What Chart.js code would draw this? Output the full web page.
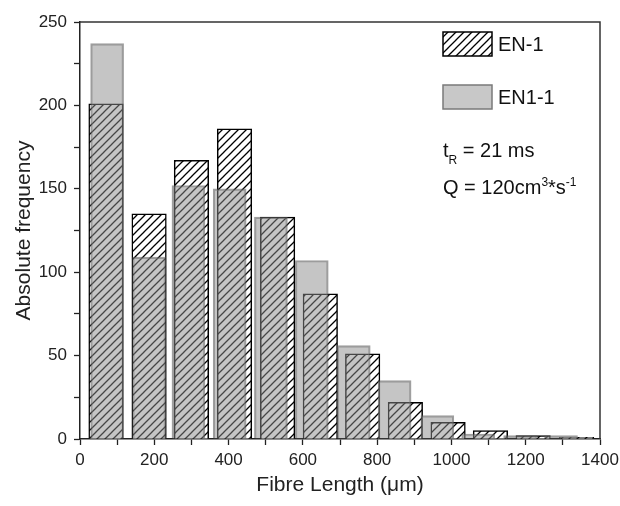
<!DOCTYPE html>
<html>
<head>
<meta charset="utf-8">
<script src="https://cdn.jsdelivr.net/npm/chart.js@4.4.0/dist/chart.umd.min.js"></script>
<style>
html, body { margin: 0; padding: 0; background: #fff; }
</style>
</head>
<body>
<canvas id="grafico" width="620" height="506"></canvas>
<script>
// bin centres (um) and counts
var binsEN1 = [70, 186, 300, 416, 532, 647, 761, 876, 991, 1105, 1220, 1337];
var valEN1 = [201, 135, 167, 186, 133, 87, 51, 22, 10, 5, 2, 1];

var binsEN11 = [73, 186, 292, 403, 514, 624, 737, 847, 962, 1072, 1185, 1295];
var valEN11 = [237, 109, 152, 150, 133, 107, 56, 35, 14, 3, 2, 2];

var xTicks = [0, 200, 400, 600, 800, 1000, 1200, 1400];
var yTicks = [0, 50, 100, 150, 200, 250];

function pares(xs, ys) {
    var out = [];
    for (var i = 0; i < xs.length; i++) out.push({x: xs[i], y: ys[i]});
    return out;
}

// hachura "/"
function hachura() {
    var c = document.createElement("canvas");
    c.width = 8; c.height = 8;
    var g = c.getContext("2d");
    g.fillStyle = "#fff";
    g.fillRect(0, 0, 8, 8);
    g.strokeStyle = "#000";
    g.lineWidth = 1.3;
    g.beginPath();
    g.moveTo(-2, 10); g.lineTo(10, -2);
    g.moveTo(-6, 6); g.lineTo(6, -6);
    g.moveTo(2, 14); g.lineTo(14, 2);
    g.stroke();
    return g.createPattern(c, "repeat");
}

var contexto = document.getElementById("grafico").getContext("2d");
var padrao = hachura();
var cinza = "rgba(140,140,140,0.5)";
var cinzaBorda = "rgba(95,95,95,0.6)";
var fonte = "'Liberation Sans', Arial, sans-serif";

var extras = {
    id: "extras",
    afterDraw: function(chart) {
        var ctx = chart.ctx, a = chart.chartArea;
        ctx.save();
        // moldura
        ctx.strokeStyle = "#333";
        ctx.lineWidth = 1.5;
        ctx.beginPath();
        ctx.moveTo(a.left, a.top); ctx.lineTo(a.right, a.top); ctx.lineTo(a.right, a.bottom);
        ctx.stroke();

        // legenda
        ctx.fillStyle = padrao;
        ctx.fillRect(443, 32, 49, 24);
        ctx.strokeStyle = "#000";
        ctx.lineWidth = 1.5;
        ctx.strokeRect(443, 32, 49, 24);

        ctx.fillStyle = "#c8c8c8";
        ctx.fillRect(443, 85, 49, 24);
        ctx.strokeStyle = "#7a7a7a";
        ctx.strokeRect(443, 85, 49, 24);

        ctx.fillStyle = "#111";
        ctx.textBaseline = "middle";
        ctx.font = "20px " + fonte;
        ctx.fillText("EN-1", 498, 45);
        ctx.fillText("EN1-1", 498, 98);

        ctx.textBaseline = "alphabetic";
        var x = 443;
        ctx.font = "20px " + fonte;
        ctx.fillText("t", x, 157);
        x += ctx.measureText("t").width;
        ctx.font = "12px " + fonte;
        ctx.fillText("R", x, 164);
        x += ctx.measureText("R").width;
        ctx.font = "20px " + fonte;
        ctx.fillText(" = 21 ms", x, 157);

        x = 443;
        ctx.fillText("Q = 120cm", x, 194);
        x += ctx.measureText("Q = 120cm").width;
        ctx.font = "12px " + fonte;
        ctx.fillText("3", x, 186);
        x += ctx.measureText("3").width;
        ctx.font = "20px " + fonte;
        ctx.fillText("*s", x, 194);
        x += ctx.measureText("*s").width;
        ctx.font = "12px " + fonte;
        ctx.fillText("-1", x, 186);
        ctx.restore();
    }
};

var grafico = new Chart(contexto, {
    type: 'bar',
    data: {
        datasets: [{
            label: 'EN-1',
            data: pares(binsEN1, valEN1),
            backgroundColor: padrao,
            borderColor: '#000',
            borderWidth: 1.5,
            barThickness: 34.5,
            order: 2
        }, {
            label: 'EN1-1',
            data: pares(binsEN11, valEN11),
            backgroundColor: cinza,
            borderColor: cinzaBorda,
            borderWidth: 1.5,
            barThickness: 33,
            order: 1
        }]
    },
    options: {
        responsive: false,
        animation: false,
        grouped: false,
        layout: { padding: { left: 0, right: 20, top: 22, bottom: 6 } },
        plugins: {
            legend: { display: false },
            tooltip: { enabled: false }
        },
        scales: {
            x: {
                type: 'linear',
                offset: false,
                min: 0, max: 1400,
                afterBuildTicks: function(s) {
                    var t = [];
                    for (var v = 0; v <= 1400; v += 100) t.push({value: v});
                    s.ticks = t;
                },
                afterFit: function(s) {
                    s.height = 61;
                    s.paddingLeft = 0;
                    s.paddingRight = 0;
                },
                ticks: {
                    color: '#222',
                    font: { size: 17, family: fonte },
                    maxRotation: 0,
                    autoSkip: false,
                    padding: 5,
                    callback: function(v) { return xTicks.indexOf(v) >= 0 ? v : ''; }
                },
                grid: { offset: false, drawOnChartArea: false, tickLength: 6, tickColor: '#222', tickWidth: 1.3 },
                border: { color: '#222', width: 1.5 },
                title: {
                    display: true,
                    text: 'Fibre Length (\u03bcm)',
                    color: '#222',
                    font: { size: 21, family: fonte },
                    padding: { top: 6, bottom: 2 }
                }
            },
            y: {
                min: 0, max: 250,
                afterBuildTicks: function(s) {
                    var t = [];
                    for (var v = 0; v <= 250; v += 25) t.push({value: v});
                    s.ticks = t;
                },
                afterFit: function(s) { s.width = 80; },
                ticks: {
                    color: '#222',
                    font: { size: 17, family: fonte },
                    autoSkip: false,
                    padding: 7,
                    callback: function(v) { return yTicks.indexOf(v) >= 0 ? v : ''; }
                },
                grid: { drawOnChartArea: false, tickLength: 6, tickColor: '#222', tickWidth: 1.3 },
                border: { color: '#222', width: 1.5 },
                title: {
                    display: true,
                    text: 'Absolute frequency',
                    color: '#222',
                    font: { size: 21, family: fonte },
                    padding: { top: 12, bottom: 0 }
                }
            }
        }
    },
    plugins: [extras]
});
</script>
</body>
</html>
